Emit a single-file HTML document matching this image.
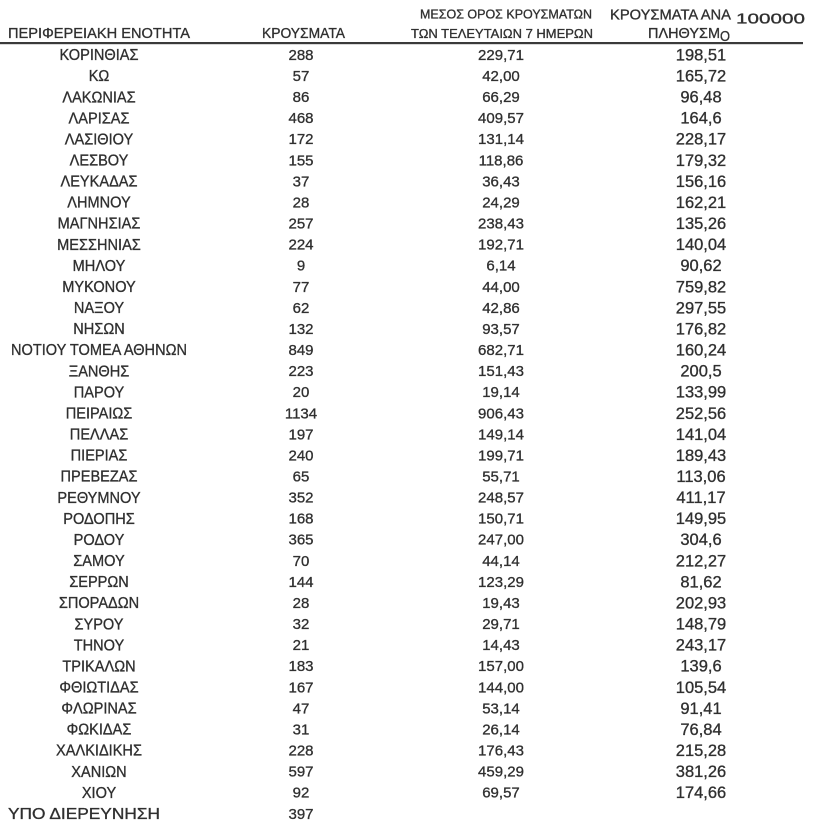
<!DOCTYPE html>
<html>
<head>
<meta charset="utf-8">
<style>
html,body{margin:0;padding:0;background:#fff;}
svg{display:block;}
text{font-family:"Liberation Sans","Noto Sans CJK SC",sans-serif;fill:#2e2e2e;stroke:#3a3a3a;stroke-width:0.35px;}
</style>
</head>
<body>
<svg width="820" height="820" viewBox="0 0 820 820" xmlns="http://www.w3.org/2000/svg">
<rect width="820" height="820" fill="#fff"/>
<!-- header -->
<text x="8" y="38" font-size="15" textLength="182" lengthAdjust="spacingAndGlyphs">ΠΕΡΙΦΕΡΕΙΑΚΗ ΕΝΟΤΗΤΑ</text>
<text x="262" y="38" font-size="15" textLength="83" lengthAdjust="spacingAndGlyphs">ΚΡΟΥΣΜΑΤΑ</text>
<text x="420" y="18.5" font-size="12.5" textLength="172" lengthAdjust="spacingAndGlyphs">ΜΕΣΟΣ ΟΡΟΣ ΚΡΟΥΣΜΑΤΩΝ</text>
<text x="411" y="38" font-size="13" textLength="182" lengthAdjust="spacingAndGlyphs">ΤΩΝ ΤΕΛΕΥΤΑΙΩΝ 7 ΗΜΕΡΩΝ</text>
<text x="610" y="19.5" font-size="14.5" textLength="121" lengthAdjust="spacingAndGlyphs">ΚΡΟΥΣΜΑΤΑ ΑΝΑ</text>
<text x="736" y="23.5" font-size="15" textLength="69" lengthAdjust="spacingAndGlyphs">100000</text>
<text x="648" y="38" font-size="14.5" textLength="72" lengthAdjust="spacingAndGlyphs">ΠΛΗΘΥΣΜ</text>
<text x="720" y="41" font-size="14.5" textLength="10" lengthAdjust="spacingAndGlyphs">Ο</text>
<rect x="0" y="42" width="803" height="2.2" fill="#3a3a3a"/>

<g transform="translate(99,0) scale(0.94,1)" font-size="15.5" text-anchor="middle">
<text x="0" y="60.1">ΚΟΡΙΝΘΙΑΣ</text>
<text x="0" y="81.2">ΚΩ</text>
<text x="0" y="102.3">ΛΑΚΩΝΙΑΣ</text>
<text x="0" y="123.3">ΛΑΡΙΣΑΣ</text>
<text x="0" y="144.4">ΛΑΣΙΘΙΟΥ</text>
<text x="0" y="165.5">ΛΕΣΒΟΥ</text>
<text x="0" y="186.6">ΛΕΥΚΑΔΑΣ</text>
<text x="0" y="207.7">ΛΗΜΝΟΥ</text>
<text x="0" y="228.7">ΜΑΓΝΗΣΙΑΣ</text>
<text x="0" y="249.8">ΜΕΣΣΗΝΙΑΣ</text>
<text x="0" y="270.9">ΜΗΛΟΥ</text>
<text x="0" y="292.0">ΜΥΚΟΝΟΥ</text>
<text x="0" y="313.1">ΝΑΞΟΥ</text>
<text x="0" y="334.1">ΝΗΣΩΝ</text>
<text x="0" y="355.2">ΝΟΤΙΟΥ ΤΟΜΕΑ ΑΘΗΝΩΝ</text>
<text x="0" y="376.3">ΞΑΝΘΗΣ</text>
<text x="0" y="397.4">ΠΑΡΟΥ</text>
<text x="0" y="418.5">ΠΕΙΡΑΙΩΣ</text>
<text x="0" y="439.5">ΠΕΛΛΑΣ</text>
<text x="0" y="460.6">ΠΙΕΡΙΑΣ</text>
<text x="0" y="481.7">ΠΡΕΒΕΖΑΣ</text>
<text x="0" y="502.8">ΡΕΘΥΜΝΟΥ</text>
<text x="0" y="523.9">ΡΟΔΟΠΗΣ</text>
<text x="0" y="544.9">ΡΟΔΟΥ</text>
<text x="0" y="566.0">ΣΑΜΟΥ</text>
<text x="0" y="587.1">ΣΕΡΡΩΝ</text>
<text x="0" y="608.2">ΣΠΟΡΑΔΩΝ</text>
<text x="0" y="629.3">ΣΥΡΟΥ</text>
<text x="0" y="650.3">ΤΗΝΟΥ</text>
<text x="0" y="671.4">ΤΡΙΚΑΛΩΝ</text>
<text x="0" y="692.5">ΦΘΙΩΤΙΔΑΣ</text>
<text x="0" y="713.6">ΦΛΩΡΙΝΑΣ</text>
<text x="0" y="734.7">ΦΩΚΙΔΑΣ</text>
<text x="0" y="755.7">ΧΑΛΚΙΔΙΚΗΣ</text>
<text x="0" y="776.8">ΧΑΝΙΩΝ</text>
<text x="0" y="797.9">ΧΙΟΥ</text>
</g>
<text x="8" y="818.8" font-size="15.5" textLength="152" lengthAdjust="spacingAndGlyphs">ΥΠΟ ΔΙΕΡΕΥΝΗΣΗ</text>

<g font-size="15" text-anchor="middle">
<text x="301" y="59.9">288</text>
<text x="301" y="81.0">57</text>
<text x="301" y="102.1">86</text>
<text x="301" y="123.1">468</text>
<text x="301" y="144.2">172</text>
<text x="301" y="165.3">155</text>
<text x="301" y="186.4">37</text>
<text x="301" y="207.5">28</text>
<text x="301" y="228.5">257</text>
<text x="301" y="249.6">224</text>
<text x="301" y="270.7">9</text>
<text x="301" y="291.8">77</text>
<text x="301" y="312.9">62</text>
<text x="301" y="333.9">132</text>
<text x="301" y="355.0">849</text>
<text x="301" y="376.1">223</text>
<text x="301" y="397.2">20</text>
<text x="301" y="418.3">1134</text>
<text x="301" y="439.3">197</text>
<text x="301" y="460.4">240</text>
<text x="301" y="481.5">65</text>
<text x="301" y="502.6">352</text>
<text x="301" y="523.7">168</text>
<text x="301" y="544.7">365</text>
<text x="301" y="565.8">70</text>
<text x="301" y="586.9">144</text>
<text x="301" y="608.0">28</text>
<text x="301" y="629.1">32</text>
<text x="301" y="650.1">21</text>
<text x="301" y="671.2">183</text>
<text x="301" y="692.3">167</text>
<text x="301" y="713.4">47</text>
<text x="301" y="734.5">31</text>
<text x="301" y="755.5">228</text>
<text x="301" y="776.6">597</text>
<text x="301" y="797.7">92</text>
<text x="301" y="818.8">397</text>
</g>

<g font-size="15" text-anchor="middle">
<text x="501" y="59.9">229,71</text>
<text x="501" y="81.0">42,00</text>
<text x="501" y="102.1">66,29</text>
<text x="501" y="123.1">409,57</text>
<text x="501" y="144.2">131,14</text>
<text x="501" y="165.3">118,86</text>
<text x="501" y="186.4">36,43</text>
<text x="501" y="207.5">24,29</text>
<text x="501" y="228.5">238,43</text>
<text x="501" y="249.6">192,71</text>
<text x="501" y="270.7">6,14</text>
<text x="501" y="291.8">44,00</text>
<text x="501" y="312.9">42,86</text>
<text x="501" y="333.9">93,57</text>
<text x="501" y="355.0">682,71</text>
<text x="501" y="376.1">151,43</text>
<text x="501" y="397.2">19,14</text>
<text x="501" y="418.3">906,43</text>
<text x="501" y="439.3">149,14</text>
<text x="501" y="460.4">199,71</text>
<text x="501" y="481.5">55,71</text>
<text x="501" y="502.6">248,57</text>
<text x="501" y="523.7">150,71</text>
<text x="501" y="544.7">247,00</text>
<text x="501" y="565.8">44,14</text>
<text x="501" y="586.9">123,29</text>
<text x="501" y="608.0">19,43</text>
<text x="501" y="629.1">29,71</text>
<text x="501" y="650.1">14,43</text>
<text x="501" y="671.2">157,00</text>
<text x="501" y="692.3">144,00</text>
<text x="501" y="713.4">53,14</text>
<text x="501" y="734.5">26,14</text>
<text x="501" y="755.5">176,43</text>
<text x="501" y="776.6">459,29</text>
<text x="501" y="797.7">69,57</text>
</g>

<g font-size="16.5" text-anchor="middle">
<text x="701" y="60.4">198,51</text>
<text x="701" y="81.5">165,72</text>
<text x="701" y="102.6">96,48</text>
<text x="701" y="123.6">164,6</text>
<text x="701" y="144.7">228,17</text>
<text x="701" y="165.8">179,32</text>
<text x="701" y="186.9">156,16</text>
<text x="701" y="208.0">162,21</text>
<text x="701" y="229.0">135,26</text>
<text x="701" y="250.1">140,04</text>
<text x="701" y="271.2">90,62</text>
<text x="701" y="292.3">759,82</text>
<text x="701" y="313.4">297,55</text>
<text x="701" y="334.4">176,82</text>
<text x="701" y="355.5">160,24</text>
<text x="701" y="376.6">200,5</text>
<text x="701" y="397.7">133,99</text>
<text x="701" y="418.8">252,56</text>
<text x="701" y="439.8">141,04</text>
<text x="701" y="460.9">189,43</text>
<text x="701" y="482.0">113,06</text>
<text x="701" y="503.1">411,17</text>
<text x="701" y="524.2">149,95</text>
<text x="701" y="545.2">304,6</text>
<text x="701" y="566.3">212,27</text>
<text x="701" y="587.4">81,62</text>
<text x="701" y="608.5">202,93</text>
<text x="701" y="629.6">148,79</text>
<text x="701" y="650.6">243,17</text>
<text x="701" y="671.7">139,6</text>
<text x="701" y="692.8">105,54</text>
<text x="701" y="713.9">91,41</text>
<text x="701" y="735.0">76,84</text>
<text x="701" y="756.0">215,28</text>
<text x="701" y="777.1">381,26</text>
<text x="701" y="798.2">174,66</text>
</g>
</svg>
</body>
</html>
